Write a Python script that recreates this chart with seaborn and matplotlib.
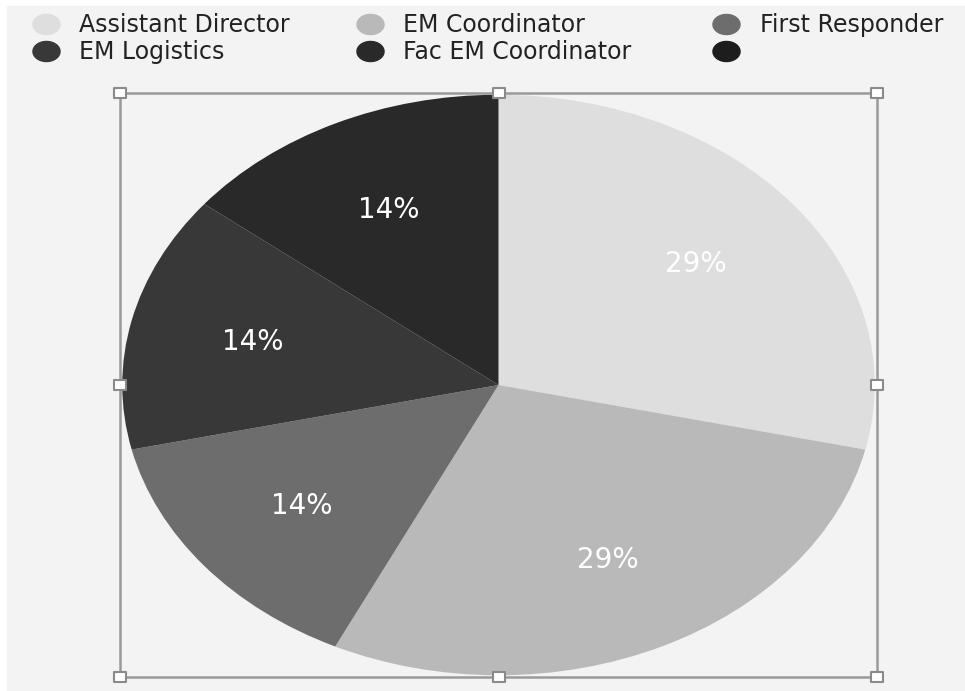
import numpy as np
import matplotlib
matplotlib.use("Agg")
import matplotlib.pyplot as plt
from matplotlib.patches import Rectangle
from matplotlib.path import Path
import seaborn as sns

# ---- data ----
categories = ["Assistant Director", "EM Coordinator", "First Responder",
              "EM Logistics", "Fac EM Coordinator", ""]
values = [2, 2, 1, 1, 1, 0]
colors = ["#dedede", "#b9b9b9", "#6d6d6d", "#383838", "#292929", "#1d1d1d"]

sns.set_theme(style="white")
plt.rcParams["font.family"] = ["DejaVu Sans"]

W, H = 965, 691
fig = plt.figure(figsize=(W / 100, H / 100), dpi=100)
fig.patch.set_facecolor("white")
fig.patches.append(Rectangle((7 / W, 0), 1 - 7 / W, 1 - 6 / H,
                             transform=fig.transFigure, color="#f3f3f3",
                             zorder=-10))

# ---- pie ----
ax = fig.add_axes([120 / W, 1 - 677 / H, 757 / W, 584 / H])
ax.set_facecolor("none")
pv = [v for v in values if v > 0]
pc = [c for v, c in zip(values, colors) if v > 0]
wedges, texts, autotexts = ax.pie(
    pv, colors=pc, startangle=90, counterclock=False,
    autopct=lambda p: f"{p:.0f}%", pctdistance=0.67,
    wedgeprops=dict(linewidth=0),
    textprops=dict(color="white", fontsize=20))
ax.set_aspect("auto")
b = 1.006
ax.set_xlim(-b, b)
ax.set_ylim(-b, b)
ax.set_axis_off()

# selection box with handles
ax.plot([-b, b, b, -b, -b], [-b, -b, b, b, -b], color="#9a9a9a", lw=1.8,
        clip_on=False, zorder=5)
rect_marker = Path([(-0.6, -0.5), (0.6, -0.5), (0.6, 0.5), (-0.6, 0.5), (-0.6, -0.5)],
                   [Path.MOVETO, Path.LINETO, Path.LINETO, Path.LINETO, Path.CLOSEPOLY])
hx = [-b, 0, b, -b, b, -b, 0, b]
hy = [b, b, b, 0, 0, -b, -b, -b]
ax.plot(hx, hy, linestyle="none", marker=rect_marker, ms=9, mfc="white",
        mec="#8a8a8a", mew=1.5, clip_on=False, zorder=6)

# ---- legend ----
lg = fig.add_axes([0, 0, 1, 1], zorder=10)
lg.set_xlim(0, W)
lg.set_ylim(H, 0)
lg.set_axis_off()
lg.patch.set_alpha(0)
t = np.linspace(0, 2 * np.pi, 60)
ell = Path(np.column_stack([1.35 * np.cos(t), np.sin(t)]))
mx = [46, 370, 726, 46, 370, 726]
my = [24, 24, 24, 51, 51, 51]
tx = [79, 403, 760, 79, 403, 760]
ty = [31.5, 31.5, 31.5, 58.5, 58.5, 58.5]
for i, (cat, col) in enumerate(zip(categories, colors)):
    lg.plot([mx[i]], [my[i]], marker=ell, ms=19.5, color=col, linestyle="none")
    if cat:
        lg.text(tx[i], ty[i], cat, fontsize=17, color="#222222",
                va="baseline", ha="left")

fig.savefig("out.png", dpi=100, facecolor=fig.get_facecolor())
